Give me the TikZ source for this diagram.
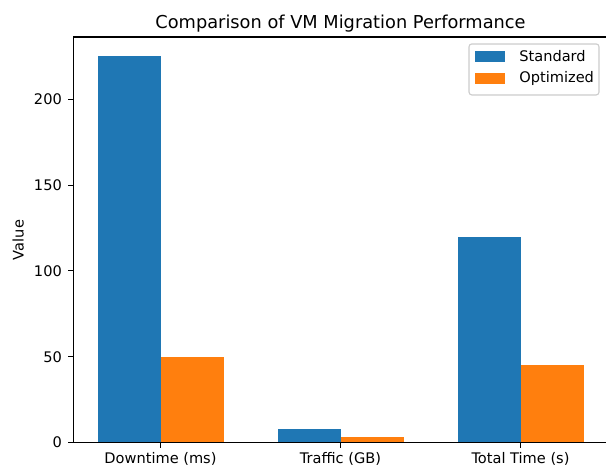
\documentclass[tikz,border=0pt]{standalone}
\usepackage{fontspec}
\setmainfont{DejaVu Sans}
\definecolor{stdblue}{HTML}{1F77B4}
\definecolor{optorange}{HTML}{FF7F0E}

\begin{document}
\begin{tikzpicture}[x=129.6pt, y=1.2362pt,
    stdbar/.style={fill=stdblue},
    optbar/.style={fill=optorange},
    axisline/.style={line width=0.8pt, line cap=rect},
    ticklbl/.style={inner sep=0pt, font=\fontsize{10.5}{12}\selectfont}]
  \useasboundingbox (-0.8917,-15.9) rectangle (2.475,257.8);

  % bars
  \fill[stdbar] (-0.35,0) rectangle (0,225);
  \fill[optbar] (0,0) rectangle (0.35,50);
  \fill[stdbar] (0.65,0) rectangle (1,8);
  \fill[optbar] (1,0) rectangle (1.35,3);
  \fill[stdbar] (1.65,0) rectangle (2,120);
  \fill[optbar] (2,0) rectangle (2.35,45);

  % axes
  \coordinate (tr) at (2.475,236.25);
  \coordinate (bl) at (-0.485,0);
  \coordinate (br) at (2.475,0);
  \draw[axisline] (tr) -| (bl) -- (br);

  \draw[axisline] (-0.485,0) -- ++(-3.5pt,0);
  \draw[axisline] (-0.485,50) -- ++(-3.5pt,0);
  \draw[axisline] (-0.485,100) -- ++(-3.5pt,0);
  \draw[axisline] (-0.485,150) -- ++(-3.5pt,0);
  \draw[axisline] (-0.485,200) -- ++(-3.5pt,0);
  \node[ticklbl, anchor=east, xshift=-8pt] (y0) at (-0.485,0) {0};
  \node[ticklbl, anchor=east, xshift=-8pt] (y50) at (-0.485,50) {50};
  \node[ticklbl, anchor=east, xshift=-8pt] (y100) at (-0.485,100) {100};
  \node[ticklbl, anchor=east, xshift=-8pt] (y150) at (-0.485,150) {150};
  \node[ticklbl, anchor=east, xshift=-8pt] (y200) at (-0.485,200) {200};

  \draw[axisline] (0,0) -- ++(0,-3.5pt);
  \draw[axisline] (1,0) -- ++(0,-3.5pt);
  \draw[axisline] (2,0) -- ++(0,-3.5pt);
  \node[ticklbl, anchor=north, yshift=-7pt] (xdown) at (0,0) {Downtime (ms)};
  \node[ticklbl, anchor=north, yshift=-7pt] (xtraf) at (1,0) {Traffic (GB)};
  \node[ticklbl, anchor=north, yshift=-7pt] (xtotal) at (2,0) {Total Time (s)};

  \node[ticklbl, rotate=90] (ylab) at (-0.79,118) {Value};
  \node[anchor=base, inner sep=0pt, yshift=6pt, font=\fontsize{12.8}{14}\selectfont]
    (title) at (1,236.25) {Comparison of VM Migration Performance};

  % legend
  \draw[draw=black!20, fill=white, rounded corners=2pt, line width=0.8pt]
    (1.714,232.2) rectangle (2.436,202.5);
  \fill[stdbar] (1.747,228.1) rectangle (1.914,221.6);
  \fill[optbar] (1.747,215.1) rectangle (1.914,208.7);
  \node[ticklbl, anchor=west] (legstd) at (1.992,224.9) {Standard};
  \node[ticklbl, anchor=west] (legopt) at (1.992,211.9) {Optimized};
\end{tikzpicture}
\end{document}
